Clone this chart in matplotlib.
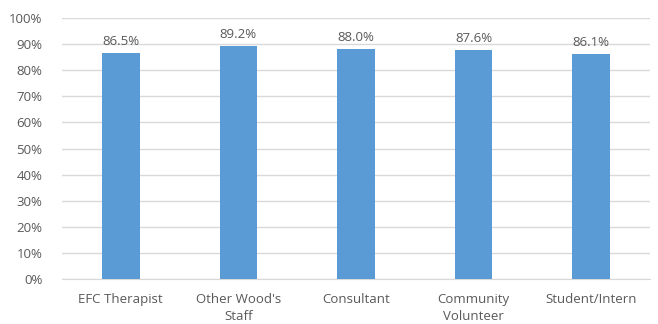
import matplotlib
matplotlib.use("Agg")
import matplotlib.pyplot as plt
import numpy as np
from matplotlib.ticker import PercentFormatter

# Data
categories = ["EFC Therapist", "Other Wood's\nStaff", "Consultant", "Community\nVolunteer", "Student/Intern"]
values = [86.5, 89.2, 88.0, 87.6, 86.1]

plt.rcParams["font.family"] = ["Open Sans", "DejaVu Sans"]
text_color = "#595959"

fig = plt.figure(figsize=(6.58, 3.24), dpi=100)
ax = fig.add_axes([0.094, 0.139, 0.894, 0.805])

x = np.arange(len(categories))
bars = ax.bar(x, values, width=0.32, color="#5B9BD5", zorder=3)

for b, v in zip(bars, values):
    ax.text(b.get_x() + b.get_width() / 2, v + 2, f"{v:.1f}%",
            ha="center", va="bottom", fontsize=9.5, color=text_color)

ax.set_xlim(-0.5, len(categories) - 0.5)
ax.set_ylim(0, 100)
ax.set_yticks(np.arange(0, 101, 10))
ax.yaxis.set_major_formatter(PercentFormatter(decimals=0))
ax.set_xticks(x)
ax.set_xticklabels(categories, linespacing=1.4)
ax.tick_params(axis="both", length=0, labelsize=9.5, colors=text_color)
ax.tick_params(axis="x", pad=10)
ax.tick_params(axis="y", pad=14)

ax.grid(axis="y", color="#D9D9D9", linewidth=1, zorder=0)
for side in ["top", "right", "left"]:
    ax.spines[side].set_visible(False)
ax.spines["bottom"].set_color("#D9D9D9")

fig.savefig("out.png", dpi=100)
